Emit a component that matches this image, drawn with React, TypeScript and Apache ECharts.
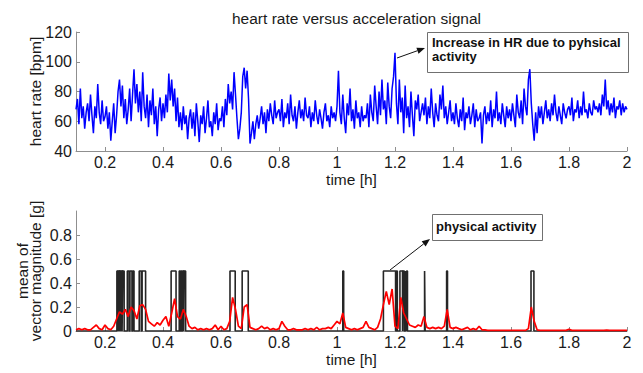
import React, { useEffect, useRef } from "react";
import * as echarts from "echarts";

const titleText = "heart rate versus acceleration signal";
const timeTickValues = [0.2, 0.4, 0.6, 0.8, 1, 1.2, 1.4, 1.6, 1.8, 2];
const timeTickLabels = ["0.2", "0.4", "0.6", "0.8", "1", "1.2", "1.4", "1.6", "1.8", "2"];
const hrTickValues = [40, 60, 80, 100, 120];
const vmTickValues = [0, 0.2, 0.4, 0.6, 0.8];
const vmTickLabels = ["0", "0.2", "0.4", "0.6", "0.8"];

// heart rate [bpm], sampled every 0.005 h from 0.1 h
const hrStartTime = 0.1;
const hrStepTime = 0.005;
const heartRate = [
  68, 75, 58, 82, 62, 70, 55, 66, 72, 60, 78, 64, 52, 70, 62, 85, 66, 58, 74, 60,
  63, 70, 55, 66, 47, 60, 72, 52, 64, 80, 88, 70, 84, 62, 75, 58, 68, 82, 60, 78,
  95, 72, 85, 66, 80, 60, 93, 70, 62, 78, 56, 74, 64, 82, 58, 70, 50, 68, 76, 60,
  72, 62, 78, 66, 92, 74, 88, 70, 82, 60, 76, 56, 66, 54, 70, 58, 64, 48, 62, 68,
  55, 66, 50, 72, 60, 46, 64, 58, 70, 52, 62, 74, 56, 60, 50, 66, 58, 72, 54, 62,
  60, 70, 56, 75, 64, 85, 72, 80, 68, 93, 78, 62, 48, 55, 66, 90, 96, 82, 94, 75,
  45, 52, 60, 48, 58, 64, 55, 62, 70, 58, 66, 52, 68, 60, 72, 64, 58, 74, 62, 66,
  68, 60, 75, 56, 66, 62, 72, 58, 78, 64, 60, 70, 55, 66, 74, 62, 68, 60, 76, 64,
  62, 70, 56, 66, 60, 74, 64, 58, 68, 62, 55, 66, 72, 60, 64, 56, 70, 62, 66, 60,
  70, 94, 66, 58, 78, 62, 52, 72, 64, 82, 60, 68, 55, 74, 62, 66, 56, 70, 60, 64,
  62, 72, 56, 78, 66, 60, 84, 70, 58, 80, 64, 88, 68, 74, 58, 86, 70, 62, 82, 90,
  106, 72, 58, 88, 66, 76, 52, 84, 62, 70, 56, 80, 64, 50, 74, 68, 78, 60, 66, 72,
  64, 76, 58, 70, 62, 82, 66, 56, 72, 64, 60, 78, 68, 84, 62, 70, 58, 66, 74, 60,
  66, 58, 72, 62, 56, 68, 60, 76, 54, 66, 62, 70, 58, 64, 72, 56, 68, 60, 62, 66,
  45, 64, 70, 58, 66, 60, 74, 56, 68, 62, 80, 60, 66, 58, 72, 64, 56, 70, 62, 68,
  60, 72, 64, 56, 78, 66, 62, 74, 58, 82, 70, 64, 88, 95, 72, 58, 47, 66, 52, 70,
  62, 70, 58, 66, 74, 62, 68, 60, 72, 64, 78, 66, 60, 70, 64, 58, 72, 66, 62, 68,
  70, 64, 76, 60, 68, 66, 74, 62, 70, 64, 80, 66, 68, 62, 72, 66, 64, 74, 68, 70,
  66, 72, 64, 78, 70, 88, 68, 74, 64, 72, 66, 76, 62, 70, 68, 74, 64, 72, 66, 70,
  68,
];

// mean of vector magnitude [g], sampled every 0.01 h from 0.1 h
const vmStartTime = 0.1;
const vmStepTime = 0.01;
const meanVectorMagnitude = [
  0.01, 0.02, 0.01, 0.02, 0.01, 0.01, 0.03, 0.05, 0.02, 0.01,
  0.05, 0.02, 0.01, 0.04, 0.1, 0.16, 0.14, 0.18, 0.12, 0.2,
  0.17, 0.1, 0.21, 0.22, 0.18, 0.08, 0.06, 0.04, 0.07, 0.05,
  0.09, 0.12, 0.04, 0.15, 0.27, 0.12, 0.1, 0.18, 0.12, 0.04,
  0.02, 0.03, 0.01, 0.02, 0.01, 0.02, 0.01, 0.02, 0.05, 0.01,
  0.04, 0.01, 0.02, 0.08, 0.28, 0.18, 0.04, 0.02, 0.2, 0.22,
  0.03, 0.02, 0.01, 0.02, 0.04, 0.02, 0.03, 0.01, 0.02, 0.01,
  0.02, 0.08, 0.04, 0.01, 0.01, 0.02, 0.01, 0.01, 0.01, 0.02,
  0.01, 0.02, 0.01, 0.03, 0.01, 0.02, 0.02, 0.03, 0.02, 0.05,
  0.08, 0.06, 0.15, 0.03, 0.02, 0.01, 0.02, 0.01, 0.02, 0.03,
  0.08, 0.03, 0.02, 0.01, 0.03, 0.1, 0.22, 0.33, 0.22, 0.35,
  0.04, 0.02, 0.28, 0.15, 0.1, 0.05, 0.04, 0.03, 0.05, 0.04,
  0.12, 0.03, 0.02, 0.03, 0.02, 0.03, 0.02, 0.04, 0.18, 0.03,
  0.02, 0.03, 0.02, 0.01, 0.02, 0.03, 0.01, 0.02, 0.01, 0.04,
  0.01, 0.01, 0.005, 0.005, 0.005, 0.005, 0.005, 0.005, 0.005, 0.005,
  0.005, 0.005, 0.005, 0.005, 0.005, 0.005, 0.02, 0.2, 0.08, 0.01,
  0.005, 0.005, 0.005, 0.005, 0.005, 0.005, 0.005, 0.005, 0.005, 0.005,
  0.015, 0.005, 0.005, 0.005, 0.005, 0.005, 0.005, 0.005, 0.005, 0.005,
  0.005, 0.005, 0.005, 0.008, 0.005, 0.005, 0.005, 0.005, 0.005, 0.005,
  0.005,
];

// detected physical activity intervals [h]
const activityStart = [0.241, 0.246, 0.251, 0.256, 0.261, 0.277, 0.286, 0.296, 0.318, 0.328, 0.428, 0.456, 0.462, 0.468, 0.473, 0.631, 0.673, 1.02, 1.16, 1.205, 1.217, 1.228, 1.236, 1.24, 1.302, 1.378, 1.669];
const activityEnd = [0.244, 0.249, 0.254, 0.259, 0.266, 0.283, 0.293, 0.3, 0.325, 0.34, 0.445, 0.459, 0.465, 0.471, 0.478, 0.649, 0.694, 1.023, 1.202, 1.208, 1.226, 1.232, 1.238, 1.243, 1.304, 1.381, 1.679];
const activityLevel = 0.5;
const timeMin = 0.1;
const timeMax = 2;

const font = "'Liberation Sans', Arial, Helvetica, sans-serif";
const axisColor = "#8f8f8f";
const textColor = "#1a1a1a";

function arrow(x1: number, y1: number, x2: number, y2: number) {
  const len = 8;
  const half = 3.2;
  const dx = x2 - x1;
  const dy = y2 - y1;
  const L = Math.hypot(dx, dy);
  const ux = dx / L;
  const uy = dy / L;
  const bx = x2 - ux * len;
  const by = y2 - uy * len;
  return [
    { type: "line", shape: { x1, y1, x2: bx, y2: by }, style: { stroke: "#111", lineWidth: 1 }, silent: true },
    {
      type: "polygon",
      shape: { points: [[x2, y2], [bx - uy * half, by + ux * half], [bx + uy * half, by - ux * half]] },
      style: { fill: "#111" },
      silent: true,
    },
  ];
}

export default function App() {
  const ref = useRef<HTMLDivElement>(null);
  useEffect(() => {
    if (!ref.current) return;
    const chart = echarts.init(ref.current, null, { renderer: "svg" });

    const hrData = heartRate.map((v, i) => [hrStartTime + i * hrStepTime, v]);
    const vmData = meanVectorMagnitude.map((v, i) => [vmStartTime + i * vmStepTime, v]);
    const actData: number[][] = [[timeMin, 0]];
    activityStart.forEach((s, i) => {
      const e = activityEnd[i];
      actData.push([s, 0], [s, activityLevel], [e, activityLevel], [e, 0]);
    });
    actData.push([timeMax, 0]);

    const timeFmt = (v: number) => {
      const i = timeTickValues.findIndex((t) => Math.abs(t - v) < 1e-6);
      return i >= 0 ? timeTickLabels[i] : "";
    };
    const vmFmt = (v: number) => {
      const i = vmTickValues.findIndex((t) => Math.abs(t - v) < 1e-6);
      return i >= 0 ? vmTickLabels[i] : "";
    };
    const labelStyle = { fontSize: 16, lineHeight: 14, color: textColor, fontFamily: font };
    const nameStyle = { fontSize: 15.5, lineHeight: 14, color: textColor, fontFamily: font };

    const xAxisBase = (gi: number) => ({
      type: "value",
      gridIndex: gi,
      min: timeMin,
      max: timeMax,
      name: "time [h]",
      nameLocation: "middle",
      nameGap: 21.5,
      nameMoveOverlap: false,
      nameTextStyle: nameStyle,
      axisLine: { show: true, onZero: false, lineStyle: { color: axisColor, width: 1 } },
      axisTick: { show: true, inside: true, length: 4, customValues: timeTickValues, lineStyle: { color: axisColor } },
      axisLabel: { ...labelStyle, margin: 4.5, customValues: timeTickValues, formatter: timeFmt },
      splitLine: { show: false },
    });

    chart.setOption({
      animation: false,
      backgroundColor: "#ffffff",
      title: {
        text: titleText,
        left: 227,
        top: 5,
        textStyle: { fontSize: 15.5, fontWeight: "normal", color: textColor, fontFamily: font },
      },
      grid: [
        { left: 76, right: 16, top: 32, height: 119 },
        { left: 76, right: 16, top: 211, height: 120 },
      ],
      xAxis: [xAxisBase(0), xAxisBase(1)],
      yAxis: [
        {
          type: "value",
          gridIndex: 0,
          min: 40,
          max: 120,
          interval: 20,
          name: "heart rate [bpm]",
          nameLocation: "middle",
          nameGap: 33,
          nameMoveOverlap: false,
          nameTextStyle: { ...nameStyle, lineHeight: 16 },
          axisLine: { show: true, lineStyle: { color: axisColor } },
          axisTick: { show: true, inside: true, length: 4, customValues: hrTickValues, lineStyle: { color: axisColor } },
          axisLabel: { ...labelStyle, margin: 4 },
          splitLine: { show: false },
        },
        {
          type: "value",
          gridIndex: 1,
          min: 0,
          max: 1,
          name: "{a|mean of}\n{a|vector magnitude [g]}",
          nameLocation: "middle",
          nameGap: 34,
          nameMoveOverlap: false,
          nameTextStyle: { ...nameStyle, lineHeight: 13, rich: { a: { fontSize: 15.5, fontFamily: font, color: textColor, lineHeight: 13 } } },
          axisLine: { show: true, lineStyle: { color: axisColor } },
          axisTick: { show: true, inside: true, length: 4, customValues: vmTickValues, lineStyle: { color: axisColor } },
          axisLabel: { ...labelStyle, margin: 4, customValues: vmTickValues, formatter: vmFmt },
          splitLine: { show: false },
        },
      ],
      series: [
        {
          type: "line",
          name: "heart rate",
          xAxisIndex: 0,
          yAxisIndex: 0,
          data: hrData,
          symbol: "none",
          showSymbol: false,
          lineStyle: { color: "#0000ff", width: 1.5 },
        },
        {
          type: "line",
          name: "physical activity",
          xAxisIndex: 1,
          yAxisIndex: 1,
          data: actData,
          symbol: "none",
          showSymbol: false,
          lineStyle: { color: "#262626", width: 1.6 },
        },
        {
          type: "line",
          name: "mean of vector magnitude",
          xAxisIndex: 1,
          yAxisIndex: 1,
          data: vmData,
          symbol: "none",
          showSymbol: false,
          lineStyle: { color: "#ff0000", width: 1.7 },
        },
      ],
      graphic: [
        {
          type: "rect",
          shape: { x: 427.5, y: 32.5, width: 201, height: 40 },
          style: { fill: "#ffffff", stroke: "#707070", lineWidth: 1 },
          silent: true,
        },
        {
          type: "text",
          x: 432,
          y: 35,
          style: {
            text: "Increase in HR due to pyhsical\nactivity",
            font: `bold 13px ${font}`,
            lineHeight: 14.5,
            fill: "#111",
            textAlign: "left",
            textVerticalAlign: "top",
          },
          silent: true,
        },
        ...arrow(397, 58, 425, 48),
        {
          type: "rect",
          shape: { x: 432.5, y: 214.5, width: 110, height: 26 },
          style: { fill: "#ffffff", stroke: "#707070", lineWidth: 1 },
          silent: true,
        },
        {
          type: "text",
          x: 436,
          y: 226,
          style: {
            text: "physical activity",
            font: `bold 13px ${font}`,
            fill: "#111",
            textAlign: "left",
            textVerticalAlign: "middle",
          },
          silent: true,
        },
        ...arrow(390, 270, 430, 239),
      ],
    });
    return () => chart.dispose();
  }, []);
  return (
    <div
      ref={ref}
      style={{ position: "absolute", left: 0, top: 0, width: 643, height: 373, background: "#fff" }}
    />
  );
}
